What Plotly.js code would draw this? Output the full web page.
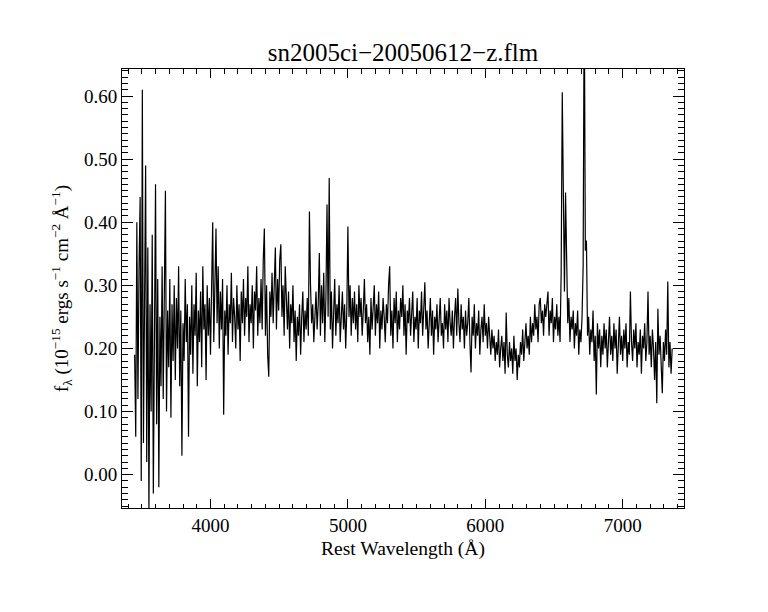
<!DOCTYPE html>
<html>
<head>
<meta charset="utf-8">
<script src="https://cdn.plot.ly/plotly-3.0.1.min.js"></script>
<style>
  html, body { margin: 0; padding: 0; background: #ffffff; }
  #chart { width: 768px; height: 612px; }
</style>
</head>
<body>
<div id="chart"></div>
<script>
// Spectrum sampling (rest wavelength grid, Angstrom)
const waveStart = 3448;
const waveStep = 8;

// Flux values f_lambda (1e-15 erg s^-1 cm^-2 A^-1), 200 A per row
const flux3448 = [0.19,0.06,0.40,0.12,0.33,0.44,-0.01,0.61,0.05,0.30,0.49,0.02,0.36,-0.06,0.27,0.10,0.38,-0.03,0.29,0.46,0.08,0.31,-0.02,0.25,0.14];
const flux3648 = [0.33,0.12,0.28,0.45,0.10,0.26,0.17,0.31,0.09,0.27,0.18,0.30,0.15,0.28,0.20,0.33,0.14,0.26,0.03,0.24,0.18,0.31,0.21,0.27,0.06];
const flux3848 = [0.25,0.19,0.30,0.16,0.27,0.22,0.32,0.14,0.26,0.21,0.29,0.17,0.33,0.23,0.27,0.15,0.30,0.22,0.28,0.19,0.31,0.40,0.21,0.30,0.39];
const flux4048 = [0.24,0.33,0.20,0.29,0.23,0.31,0.095,0.26,0.22,0.30,0.19,0.27,0.24,0.32,0.21,0.28,0.25,0.20,0.30,0.23,0.27,0.18,0.29,0.24,0.31];
const flux4248 = [0.22,0.28,0.25,0.33,0.21,0.27,0.24,0.30,0.20,0.29,0.26,0.33,0.22,0.28,0.24,0.31,0.23,0.34,0.39,0.22,0.30,0.19,0.155,0.29,0.25];
const flux4448 = [0.32,0.24,0.30,0.36,0.23,0.31,0.26,0.34,0.365,0.25,0.30,0.22,0.33,0.27,0.23,0.29,0.20,0.27,0.24,0.30,0.21,0.26,0.18,0.25,0.22];
const flux4648 = [0.27,0.19,0.25,0.29,0.21,0.26,0.23,0.28,0.22,0.417,0.30,0.24,0.27,0.21,0.25,0.29,0.23,0.27,0.351,0.22,0.30,0.24,0.32,0.21,0.28];
const flux4848 = [0.428,0.25,0.47,0.23,0.29,0.20,0.26,0.31,0.22,0.27,0.24,0.30,0.21,0.25,0.29,0.23,0.27,0.20,0.26,0.393,0.25,0.30,0.22,0.28,0.24];
const flux5048 = [0.29,0.23,0.27,0.21,0.30,0.25,0.28,0.22,0.26,0.31,0.24,0.27,0.21,0.25,0.19,0.28,0.23,0.26,0.30,0.22,0.27,0.24,0.29,0.20,0.26];
const flux5248 = [0.23,0.28,0.25,0.21,0.27,0.24,0.30,0.33,0.22,0.26,0.20,0.28,0.24,0.29,0.21,0.26,0.23,0.28,0.25,0.30,0.22,0.27,0.19,0.26,0.24];
const flux5448 = [0.28,0.22,0.26,0.29,0.21,0.25,0.23,0.28,0.20,0.26,0.24,0.29,0.22,0.27,0.305,0.23,0.26,0.20,0.25,0.28,0.22,0.26,0.19,0.25,0.23];
const flux5648 = [0.27,0.21,0.25,0.28,0.22,0.24,0.20,0.27,0.23,0.26,0.21,0.28,0.24,0.22,0.26,0.20,0.25,0.28,0.22,0.295,0.24,0.21,0.27,0.23,0.25];
const flux5848 = [0.20,0.26,0.22,0.24,0.28,0.21,0.162,0.25,0.22,0.27,0.20,0.24,0.22,0.26,0.19,0.23,0.25,0.21,0.27,0.22,0.24,0.20,0.25,0.22,0.19];
const flux6048 = [0.23,0.20,0.22,0.18,0.21,0.19,0.23,0.17,0.20,0.22,0.18,0.21,0.16,0.257,0.19,0.17,0.21,0.18,0.20,0.16,0.22,0.18,0.20,0.15,0.19];
const flux6248 = [0.17,0.21,0.19,0.23,0.18,0.21,0.24,0.20,0.22,0.19,0.25,0.21,0.24,0.22,0.27,0.23,0.25,0.21,0.27,0.28,0.24,0.26,0.22,0.27,0.25];
const flux6448 = [0.27,0.29,0.22,0.26,0.24,0.28,0.21,0.25,0.23,0.27,0.22,0.25,0.21,0.32,0.606,0.443,0.29,0.447,0.362,0.24,0.28,0.21,0.25,0.23,0.26];
const flux6648 = [0.20,0.24,0.22,0.26,0.19,0.23,0.21,0.25,0.33,0.78,0.355,0.371,0.22,0.25,0.19,0.23,0.21,0.26,0.18,0.22,0.127,0.24,0.20,0.23,0.17];
const flux6848 = [0.22,0.19,0.24,0.20,0.23,0.17,0.21,0.25,0.19,0.22,0.18,0.24,0.20,0.23,0.16,0.21,0.25,0.19,0.22,0.18,0.23,0.20,0.24,0.17,0.21];
const flux7048 = [0.19,0.29,0.21,0.18,0.23,0.20,0.24,0.17,0.21,0.19,0.23,0.16,0.22,0.20,0.24,0.18,0.21,0.29,0.19,0.22,0.17,0.23,0.20,0.15,0.21];
const flux7248 = [0.113,0.263,0.19,0.22,0.17,0.129,0.21,0.18,0.23,0.19,0.306,0.17,0.21,0.16,0.20];

const titleText = 'sn2005ci\u221220050612\u2212z.flm';
const xTitleText = 'Rest Wavelength (\u00C5)';
const yTitleText = 'f<sub>\u03BB</sub> (10<sup>\u221215</sup> ergs s<sup>\u22121</sup> cm<sup>\u22122</sup> \u00C5<sup>\u22121</sup>)';

const flux = [].concat(flux3448, flux3648, flux3848, flux4048, flux4248, flux4448,
  flux4648, flux4848, flux5048, flux5248, flux5448, flux5648, flux5848, flux6048,
  flux6248, flux6448, flux6648, flux6848, flux7048, flux7248);
const wave = flux.map((_, i) => waveStart + waveStep * i);

const fontFam = 'Liberation Serif';

const trace = {
  x: wave, y: flux, type: 'scatter', mode: 'lines',
  line: { color: '#000000', width: 1.2 },
  hoverinfo: 'skip'
};

const layout = {
  width: 768, height: 612,
  paper_bgcolor: '#ffffff', plot_bgcolor: '#ffffff',
  margin: { l: 122, r: 84, t: 69, b: 104, pad: 0 },
  showlegend: false,
  font: { family: fontFam, color: '#000000', size: 19 },
  title: {
    text: titleText,
    font: { family: fontFam, size: 25, color: '#000000' },
    x: 0.5, xref: 'paper', xanchor: 'center',
    y: 1 - 52 / 612, yref: 'container', yanchor: 'middle'
  },
  xaxis: {
    range: [3356, 7446], autorange: false,
    showgrid: false, zeroline: false,
    showline: true, linecolor: '#000000', linewidth: 1, mirror: 'ticks',
    ticks: 'inside', ticklen: 9, tickwidth: 1, tickcolor: '#000000',
    tick0: 0, dtick: 1000,
    minor: { ticks: 'inside', dtick: 100, ticklen: 4.5, tickwidth: 1, tickcolor: '#000000', showgrid: false },
    tickfont: { family: fontFam, size: 19, color: '#000000' },
    title: { text: xTitleText, font: { family: fontFam, size: 19.5, color: '#000000' }, standoff: 6 }
  },
  yaxis: {
    range: [-0.0529, 0.6428], autorange: false,
    showgrid: false, zeroline: false,
    showline: true, linecolor: '#000000', linewidth: 1, mirror: 'ticks',
    ticks: 'inside', ticklen: 11, tickwidth: 1, tickcolor: '#000000',
    tick0: 0, dtick: 0.1, tickformat: '.2f',
    minor: { ticks: 'inside', dtick: 0.01, ticklen: 6, tickwidth: 1, tickcolor: '#000000', showgrid: false },
    tickfont: { family: fontFam, size: 19, color: '#000000' },
    title: { text: yTitleText, font: { family: fontFam, size: 19, color: '#000000' }, standoff: 10 }
  }
};

Plotly.newPlot('chart', [trace], layout, { staticPlot: true, displayModeBar: false });
</script>
</body>
</html>
